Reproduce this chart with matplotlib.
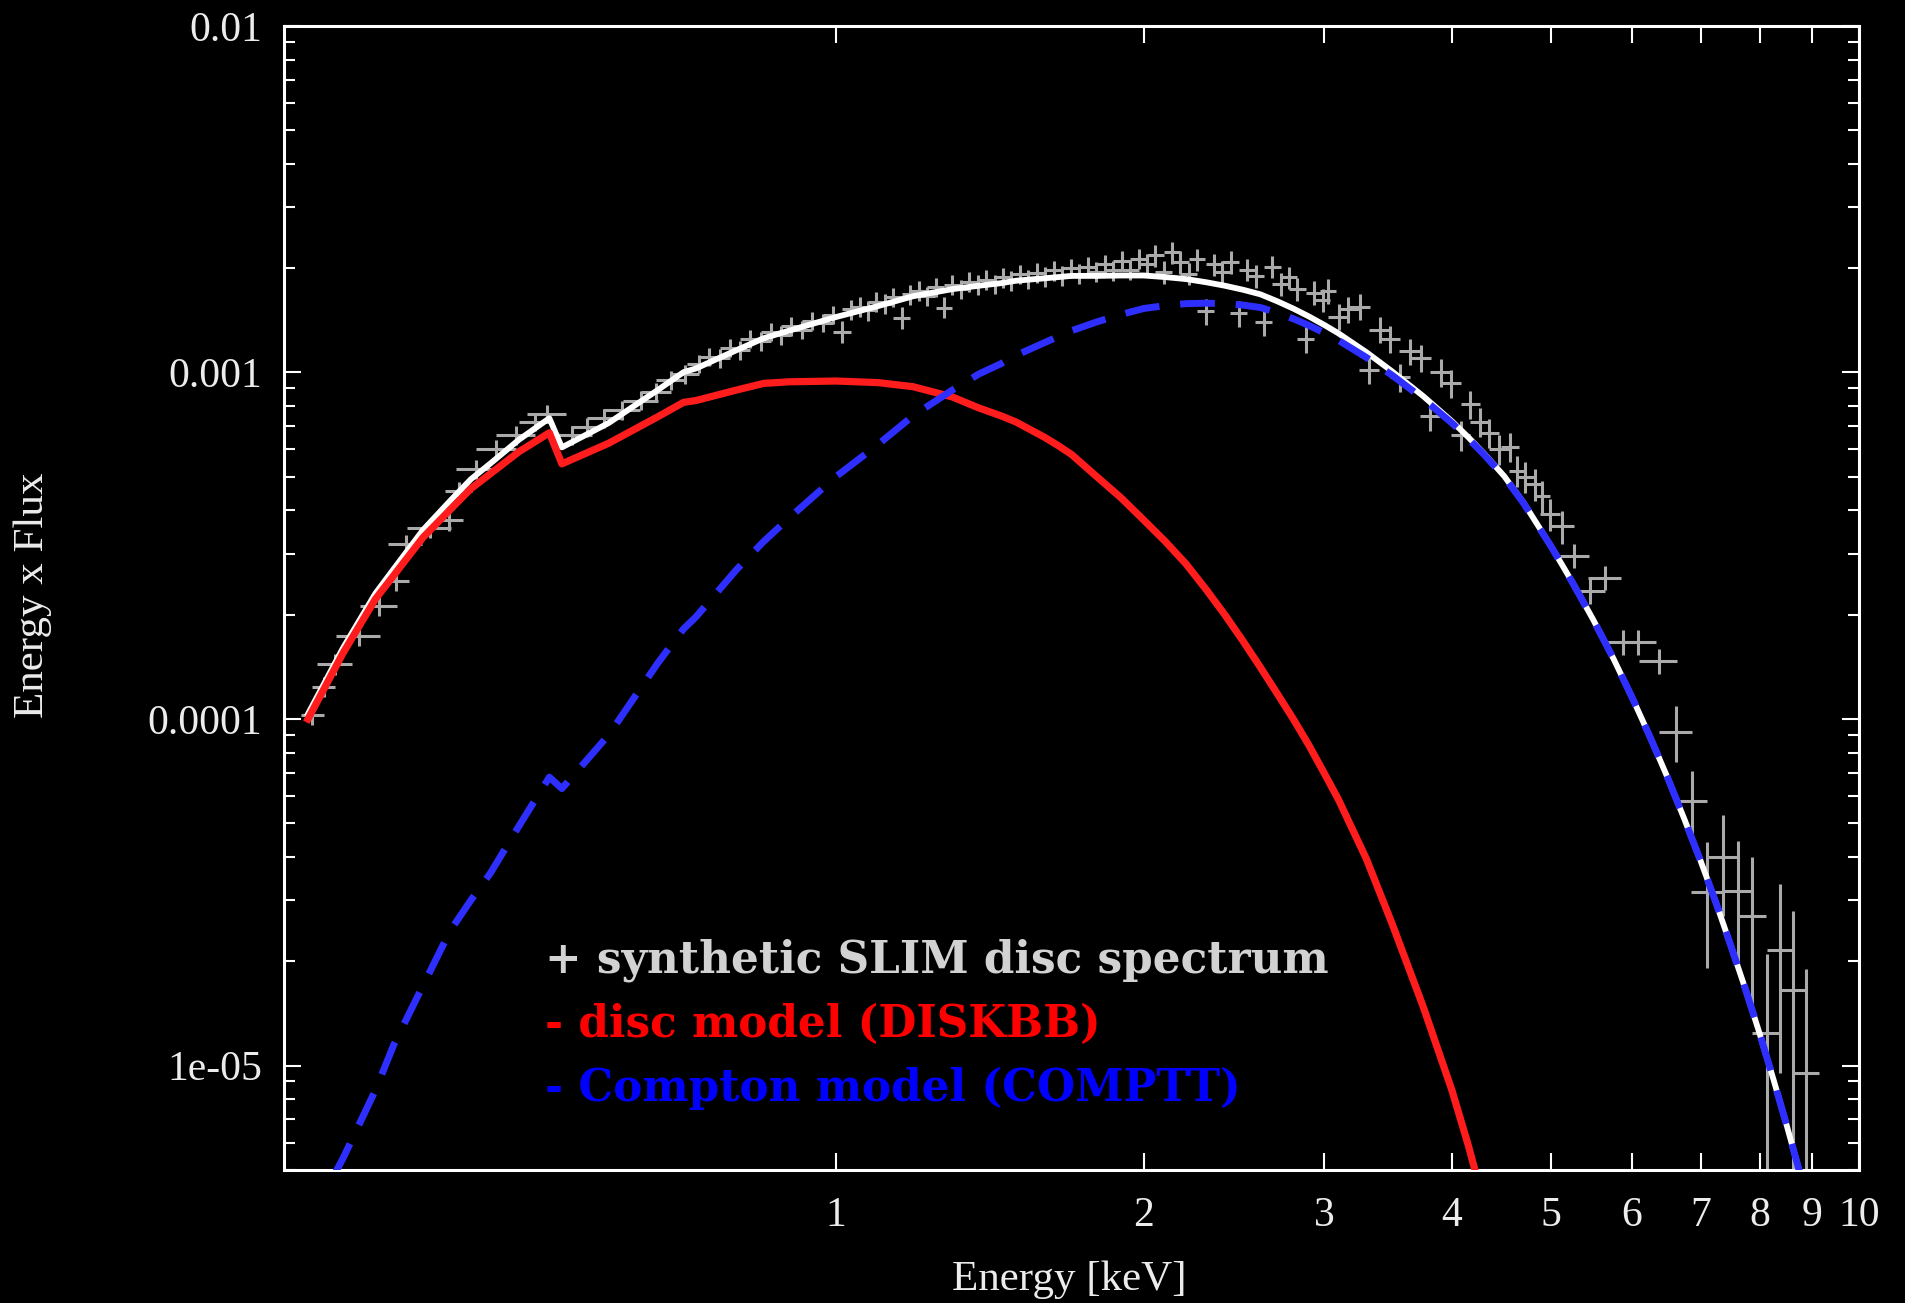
import numpy as np
import matplotlib.pyplot as plt
from matplotlib.ticker import LogLocator, NullLocator, NullFormatter

# Model grid (keV) with the two fitted components, in Energy x Flux units
energy_model = [0.305, 0.33, 0.355, 0.37, 0.395, 0.42, 0.44, 0.46, 0.49, 0.525, 0.54,
                0.60, 0.67, 0.71, 0.73, 0.80, 0.85, 0.90, 1.0, 1.1, 1.19, 1.3, 1.38, 1.45,
                1.5, 1.6, 1.65, 1.7, 1.8, 1.9, 2.0, 2.1, 2.2, 2.3, 2.4, 2.5, 2.6, 2.7, 2.8, 2.9,
                3.0, 3.1, 3.3, 3.5, 3.75, 4.0, 4.15, 4.3, 4.5, 4.7, 5.0, 5.25, 5.5, 5.75,
                6.0, 6.25, 6.5, 6.75, 7.0, 7.25, 7.5, 7.75, 8.0, 8.25, 8.5, 8.9]
disc_model = [1.0e-4, 1.55e-4, 2.22e-4, 2.6e-4, 3.34e-4, 4.02e-4, 4.62e-4, 5.11e-4, 5.9e-4, 6.7e-4, 5.45e-4,
              6.25e-4, 7.45e-4, 8.2e-4, 8.3e-4, 8.9e-4, 9.3e-4, 9.4e-4, 9.45e-4, 9.35e-4, 9.1e-4, 8.5e-4, 7.9e-4, 7.5e-4,
              7.2e-4, 6.5e-4, 6.15e-4, 5.8e-4, 5.0e-4, 4.35e-4, 3.75e-4, 3.25e-4, 2.8e-4, 2.37e-4, 2.0e-4, 1.68e-4, 1.41e-4, 1.185e-4, 1.0e-4, 8.4e-5,
              7.0e-5, 5.85e-5, 3.95e-5, 2.55e-5, 1.48e-5, 8.5e-6, 5.9e-6, 4.0e-6, 2.3e-6, 1.3e-6, 5e-7, 2.3e-7, 1e-7, 4.5e-8,
              2e-8, 9e-9, 4e-9, 2e-9, 1e-9, 5e-10, 2e-10, 1e-10, 4e-11, 2e-11, 1e-11, 3e-12]
compton_model = [3.5e-6, 5.4e-6, 8.5e-6, 1.15e-5, 1.7e-5, 2.45e-5, 3.0e-5, 3.6e-5, 4.9e-5, 6.8e-5, 6.3e-5,
                 9.0e-5, 1.45e-4, 1.82e-4, 1.97e-4, 2.7e-4, 3.25e-4, 3.8e-4, 5.0e-4, 6.2e-4, 7.5e-4, 8.9e-4, 9.9e-4, 1.06e-3,
                 1.12e-3, 1.22e-3, 1.27e-3, 1.32e-3, 1.40e-3, 1.47e-3, 1.53e-3, 1.56e-3, 1.58e-3, 1.585e-3, 1.58e-3, 1.565e-3, 1.54e-3, 1.487e-3, 1.429e-3, 1.367e-3,
                 1.303e-3, 1.238e-3, 1.105e-3, 0.98e-3, 0.84e-3, 0.715e-3, 0.645e-3, 0.58e-3, 0.50e-3, 0.42e-3, 0.315e-3, 0.247e-3, 1.93e-4, 1.50e-4,
                 1.155e-4, 8.86e-5, 6.77e-5, 5.14e-5, 3.9e-5, 2.94e-5, 2.2e-5, 1.65e-5, 1.23e-5, 9.1e-6, 6.7e-6, 4.1e-6]

# Binned synthetic spectrum: bin centre (keV), Energy x Flux, 1-sigma error
energy_data = [0.308, 0.316, 0.324, 0.342, 0.358, 0.372, 0.380, 0.401, 0.419, 0.428, 0.445, 0.466, 0.487, 0.508, 0.522,
               0.553, 0.572, 0.594, 0.618, 0.645, 0.668, 0.690, 0.712,
               0.735, 0.752, 0.770, 0.788, 0.806, 0.825, 0.845, 0.865, 0.885, 0.905, 0.927, 0.949, 0.971, 0.994,
               1.015, 1.035, 1.055, 1.075, 1.095, 1.116, 1.138, 1.160, 1.182, 1.205, 1.228, 1.252, 1.276, 1.300,
               1.325, 1.350, 1.376, 1.402, 1.430, 1.457, 1.485, 1.514, 1.543, 1.573, 1.603, 1.634, 1.665, 1.697,
               1.730, 1.763, 1.797, 1.832, 1.867, 1.903, 1.940, 1.977,
               2.015, 2.053, 2.092, 2.132, 2.172, 2.213, 2.255, 2.298, 2.342, 2.386, 2.431, 2.477, 2.524, 2.572,
               2.621, 2.671, 2.722, 2.774, 2.826, 2.880, 2.935, 2.990,
               3.03, 3.10, 3.17, 3.25, 3.32, 3.40, 3.48, 3.56, 3.64, 3.73, 3.81, 3.90,
               3.99, 4.08, 4.17, 4.26, 4.35, 4.45, 4.56, 4.63, 4.72, 4.82, 4.90, 4.99, 5.12,
               5.27, 5.46, 5.64, 5.88, 6.08, 6.37, 6.62, 6.86, 7.10, 7.36, 7.61, 7.86, 8.12, 8.37, 8.61, 8.87]
flux_data = [1.03e-4, 1.24e-4, 1.44e-4, 1.74e-4, 2.12e-4, 2.50e-4, 3.20e-4, 3.55e-4, 3.75e-4, 4.55e-4, 5.25e-4, 6.00e-4, 6.60e-4, 7.20e-4, 7.60e-4,
             6.60e-4, 6.95e-4, 7.40e-4, 7.80e-4, 8.30e-4, 8.80e-4, 9.50e-4, 9.90e-4,
             1.06e-3, 1.11e-3, 1.10e-3, 1.18e-3, 1.16e-3, 1.25e-3, 1.23e-3, 1.31e-3, 1.28e-3, 1.36e-3, 1.33e-3, 1.41e-3, 1.39e-3, 1.47e-3,
             1.31e-3, 1.52e-3, 1.55e-3, 1.51e-3, 1.60e-3, 1.58e-3, 1.65e-3, 1.44e-3, 1.68e-3, 1.72e-3, 1.66e-3, 1.76e-3, 1.54e-3, 1.79e-3,
             1.74e-3, 1.83e-3, 1.79e-3, 1.85e-3, 1.80e-3, 1.88e-3, 1.84e-3, 1.92e-3, 1.86e-3, 1.94e-3, 1.89e-3, 1.97e-3, 1.90e-3, 2.00e-3,
             1.93e-3, 2.02e-3, 1.95e-3, 2.05e-3, 1.97e-3, 2.10e-3, 1.98e-3, 2.13e-3,
             2.05e-3, 2.18e-3, 1.95e-3, 2.22e-3, 2.08e-3, 1.93e-3, 2.12e-3, 1.50e-3, 2.05e-3, 1.95e-3, 2.08e-3, 1.48e-3, 1.98e-3, 1.90e-3,
             1.40e-3, 2.02e-3, 1.80e-3, 1.88e-3, 1.74e-3, 1.25e-3, 1.70e-3, 1.62e-3,
             1.72e-3, 1.45e-3, 1.52e-3, 1.55e-3, 1.02e-3, 1.33e-3, 1.25e-3, 0.97e-3, 1.15e-3, 1.10e-3, 0.75e-3, 1.00e-3,
             0.93e-3, 0.66e-3, 0.81e-3, 0.72e-3, 0.67e-3, 0.60e-3, 0.61e-3, 0.52e-3, 0.50e-3, 0.476e-3, 0.44e-3, 0.39e-3, 0.36e-3,
             2.96e-4, 2.34e-4, 2.56e-4, 1.67e-4, 1.67e-4, 1.47e-4, 0.92e-4, 5.8e-5, 3.16e-5, 4.0e-5, 3.2e-5, 2.7e-5, 1.24e-5, 2.15e-5, 1.65e-5, 9.5e-6]
flux_err = [0.7e-5, 0.8e-5, 1.0e-5, 1.2e-5, 1.4e-5, 1.6e-5, 2.0e-5, 2.3e-5, 2.5e-5, 2.9e-5, 3.3e-5, 3.7e-5, 4.1e-5, 4.4e-5, 4.7e-5,
            4.3e-5, 4.5e-5, 4.7e-5, 4.9e-5, 5.2e-5, 5.5e-5, 5.9e-5, 6.2e-5,
            6.5e-5, 6.8e-5, 6.8e-5, 7.2e-5, 7.2e-5, 7.6e-5, 7.6e-5, 8.0e-5, 7.9e-5, 8.3e-5, 8.2e-5, 8.6e-5, 8.5e-5, 8.9e-5,
            9.4e-5, 9.8e-5, 1.01e-4, 9.8e-5, 1.04e-4, 1.02e-4, 1.07e-4, 1.01e-4, 1.09e-4, 1.11e-4, 1.08e-4, 1.14e-4, 1.07e-4, 1.15e-4,
            1.12e-4, 1.18e-4, 1.15e-4, 1.20e-4, 1.17e-4, 1.22e-4, 1.20e-4, 1.24e-4, 1.21e-4, 1.25e-4, 1.22e-4, 1.28e-4, 1.24e-4, 1.30e-4,
            1.25e-4, 1.31e-4, 1.27e-4, 1.32e-4, 1.28e-4, 1.37e-4, 1.30e-4, 1.38e-4,
            1.50e-4, 1.60e-4, 1.47e-4, 1.63e-4, 1.55e-4, 1.45e-4, 1.58e-4, 1.29e-4, 1.54e-4, 1.47e-4, 1.55e-4, 1.26e-4, 1.48e-4, 1.43e-4,
            1.22e-4, 1.51e-4, 1.36e-4, 1.41e-4, 1.33e-4, 1.12e-4, 1.31e-4, 1.26e-4,
            1.40e-4, 1.24e-4, 1.28e-4, 1.30e-4, 0.96e-4, 1.15e-4, 1.10e-4, 0.90e-4, 1.02e-4, 0.98e-4, 0.74e-4, 0.92e-4,
            0.85e-4, 0.65e-4, 0.75e-4, 0.69e-4, 0.65e-4, 0.59e-4, 0.60e-4, 0.53e-4, 0.51e-4, 0.49e-4, 0.46e-4, 0.41e-4, 0.39e-4,
            2.3e-5, 1.9e-5, 2.0e-5, 1.4e-5, 1.4e-5, 1.25e-5, 1.7e-5, 1.3e-5, 1.25e-5, 1.3e-5, 1.25e-5, 1.3e-5, 0.86e-5, 1.2e-5, 1.15e-5, 0.95e-5]

x_ticks = [1, 2, 3, 4, 5, 6, 7, 8, 9, 10]
y_ticks = [1e-5, 1e-4, 1e-3, 1e-2]
y_ticklabels = ['1e-05', '0.0001', '0.001', '0.01']

legend_lines = ['+ synthetic SLIM disc spectrum', '- disc model (DISKBB)', '- Compton model (COMPTT)']
legend_colors = ['#d2d2d2', '#ff0000', '#0000ff']

fig = plt.figure(figsize=(19.05, 13.03), dpi=100, facecolor='black')
ax = fig.add_axes([0.1491, 0.1021, 0.8268, 0.8780])
ax.set_facecolor('black')
ax.set_xscale('log')
ax.set_yscale('log')

# data crosses; horizontal bar covers the bin
e = np.array(energy_data)
bin_width = np.gradient(e)
ax.errorbar(e, flux_data, xerr=bin_width, yerr=flux_err, fmt='none',
            ecolor='#aaaaaa', elinewidth=2.2, capsize=0, zorder=1)

total_model = np.array(disc_model) + np.array(compton_model)
ax.plot(energy_model, total_model, color='white', lw=4.2, zorder=2)
ax.plot(energy_model, disc_model, color='#ff1c1c', lw=5.2, zorder=3)
ax.plot(energy_model, compton_model, color='#2e2eff', lw=5.0, dashes=(5, 3), zorder=4)

ax.set_xlim(0.289, 10)
ax.set_ylim(5e-6, 1e-2)

tick_font = {'family': 'Liberation Serif', 'size': 30}
ax.set_xticks(x_ticks)
ax.set_xticklabels([str(t) for t in x_ticks], fontdict=tick_font)
ax.xaxis.set_minor_locator(NullLocator())
ax.set_yticks(y_ticks)
ax.set_yticklabels(y_ticklabels, fontdict=tick_font)
ax.yaxis.set_minor_locator(LogLocator(base=10, subs=np.arange(2, 10)))
ax.yaxis.set_minor_formatter(NullFormatter())

ax.tick_params(which='both', direction='in', top=True, right=True,
               color='white', labelcolor='#ececec')
ax.tick_params(which='major', length=12, width=1.5)
ax.tick_params(which='minor', length=8, width=1.5)
ax.tick_params(axis='x', pad=19)
ax.tick_params(axis='y', pad=16)
for sp in ax.spines.values():
    sp.set_color('white')
    sp.set_linewidth(2.2)

fig.text(0.5615, 0.018, 'Energy [keV]', color='#ececec', ha='center', va='center',
         family='Liberation Serif', fontsize=31)
fig.text(0.017, 0.543, 'Energy x Flux', color='#ececec', ha='center', va='center',
         rotation=90, family='Liberation Serif', fontsize=31)

for i, (txt, col) in enumerate(zip(legend_lines, legend_colors)):
    ax.text(0.166, 0.1728 - 0.0563 * i, txt, transform=ax.transAxes, color=col,
            family='DejaVu Serif', weight='bold', fontsize=31.5, va='baseline', zorder=5)

fig.savefig('out.png', dpi=100, facecolor='black')
